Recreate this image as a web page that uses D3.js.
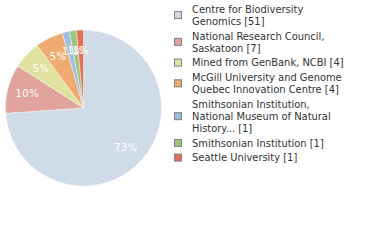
<!DOCTYPE html>
<html>
<head>
<meta charset="utf-8">
<script src="https://cdn.jsdelivr.net/npm/d3@7"></script>
<style>
body { margin: 0; background: #fff; }
svg { display: block; }
</style>
</head>
<body>
<svg id="chart" width="380" height="240"></svg>
<script>
// institutions and record counts
var names = [
    ["Centre for Biodiversity", "Genomics [51]"],
    ["National Research Council,", "Saskatoon [7]"],
    ["Mined from GenBank, NCBI [4]"],
    ["McGill University and Genome", "Quebec Innovation Centre [4]"],
    ["Smithsonian Institution,", "National Museum of Natural", "History... [1]"],
    ["Smithsonian Institution [1]"],
    ["Seattle University [1]"]
];
var counts = [51, 7, 4, 4, 1, 1, 1];
var colors = ["#cfdbe7", "#e0a49c", "#dfe39f", "#f0ac70", "#9dbde2", "#9cc67b", "#e07058"];

var svg = d3.select("#chart");
var cx = 83.5, cy = 108, r = 78;
var total = d3.sum(counts);
var font = "'DejaVu Sans Condensed', 'DejaVu Sans', sans-serif";

var pie = d3.pie().sort(null).value(function (d) { return d; });
var arcs = pie(counts);
var arc = d3.arc().innerRadius(0).outerRadius(r);
var labelArc = d3.arc().innerRadius(58).outerRadius(58);

var g = svg.append("g").attr("transform", "translate(" + cx + "," + cy + ")");

g.selectAll("path")
    .data(arcs)
    .enter()
    .append("path")
    .attr("d", arc)
    .attr("fill", function (d, i) { return colors[i]; })
    .attr("stroke", "#fff")
    .attr("stroke-width", 0.4);

g.selectAll("text")
    .data(arcs)
    .enter()
    .append("text")
    .attr("transform", function (d) {
        var c = labelArc.centroid(d);
        return "translate(" + c[0] + "," + c[1] + ")";
    })
    .attr("text-anchor", "middle")
    .attr("dy", "0.35em")
    .attr("fill", "#fff")
    .style("font-family", font)
    .style("font-size", "11px")
    .style("letter-spacing", "0.5px")
    .text(function (d) { return Math.floor(d.data / total * 100) + "%"; });

// legend
var lineH = 12.2, gap = 2.4;
var legend = svg.append("g").attr("transform", "translate(174,9)");
var y = 0;
names.forEach(function (lines, i) {
    var h = lines.length * lineH;
    var item = legend.append("g").attr("transform", "translate(0," + y + ")");
    item.append("rect")
        .attr("x", 0.5)
        .attr("y", (lines.length - 1) * lineH / 2 - 3.5)
        .attr("width", 7)
        .attr("height", 7)
        .attr("fill", colors[i])
        .attr("stroke", "#808080")
        .attr("stroke-width", 1);
    lines.forEach(function (t, j) {
        item.append("text")
            .attr("x", 18)
            .attr("y", j * lineH)
            .attr("dy", "0.35em")
            .attr("fill", "#333")
            .style("font-family", font)
            .style("font-size", "11px")
            .text(t);
    });
    y += h + gap;
});
</script>
</body>
</html>
